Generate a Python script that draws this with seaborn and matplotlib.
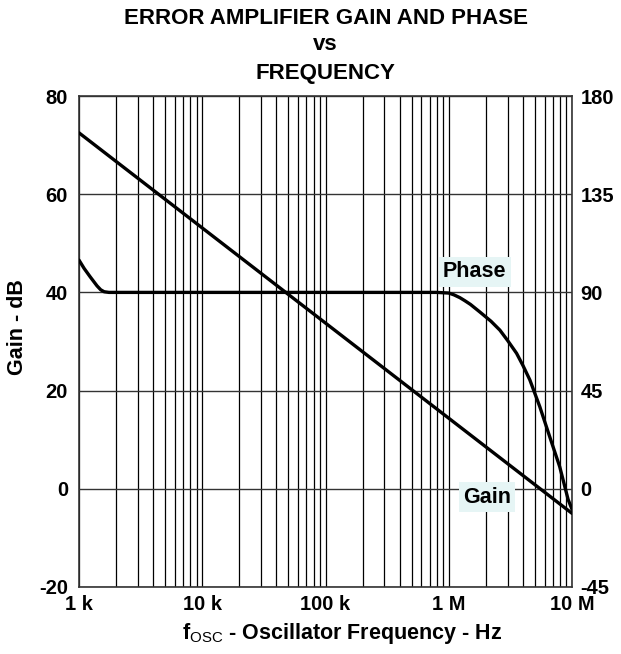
import numpy as np
import matplotlib
matplotlib.use("Agg")
import matplotlib.pyplot as plt
import matplotlib.ticker as mticker
import seaborn as sns

# ---- data ----
gain_freq = [1.0e3, 1.0e7]
gain_db = [72.5, -5.0]

phase_freq = [1.0e3, 1.1e3, 1.23e3, 1.4e3, 1.5e3, 1.6e3, 1.75e3, 1.0e4, 1.0e5,
              8.0e5, 1.0e6, 1.1e6, 1.23e6, 1.35e6, 1.5e6, 1.79e6, 2.2e6, 2.6e6,
              3.0e6, 3.55e6, 4.0e6, 4.55e6, 5.48e6, 6.6e6, 7.95e6, 9.3e6, 1.0e7]
phase_deg = [104.8, 101.0, 97.2, 93.0, 91.2, 90.3, 90.0, 90.0, 90.0,
             90.0, 89.7, 88.9, 87.6, 86.2, 84.5, 81.0, 76.8, 72.7,
             68.0, 62.1, 56.5, 49.9, 37.6, 23.8, 10.1, -4.9, -9.4]

x_ticks = [1e3, 1e4, 1e5, 1e6, 1e7]
x_ticklabels = ["1 k", "10 k", "100 k", "1 M", "10 M"]
gain_ticks = [-20, 0, 20, 40, 60, 80]
phase_ticks = [-45, 0, 45, 90, 135, 180]

sns.set_style("white")
plt.rcParams["font.family"] = ["Liberation Sans", "DejaVu Sans"]
plt.rcParams["text.color"] = "black"
plt.rcParams["xtick.color"] = "black"
plt.rcParams["ytick.color"] = "black"
plt.rcParams["axes.labelcolor"] = "black"
plt.rcParams["mathtext.fontset"] = "custom"
plt.rcParams["mathtext.rm"] = "Liberation Sans"

FS_TICK = 14.5
FS_TEXT = 15.5

W, H = 621, 654
fig = plt.figure(figsize=(W / 100, H / 100), dpi=100)
ax = fig.add_axes([79 / W, 1 - 587 / H, (572 - 79) / W, (587 - 96) / H])

sns.lineplot(x=gain_freq, y=gain_db, ax=ax, color="black", lw=2.4, zorder=5)
ax.set_xscale("log")
ax.set_xlim(1e3, 1e7)
ax.set_ylim(-20, 80)

ax.xaxis.set_minor_locator(mticker.LogLocator(base=10, subs=np.arange(2, 10)))
ax.xaxis.set_minor_formatter(mticker.NullFormatter())
ax.set_xticks(x_ticks)
ax.set_xticklabels(x_ticklabels)
ax.set_yticks(gain_ticks)
ax.set_yticklabels([str(v) for v in gain_ticks])

ax.grid(which="both", axis="x", color="black", lw=0.9)
ax.grid(which="major", axis="y", color="#333333", lw=1.0)
ax.tick_params(which="both", length=0)
ax.tick_params(axis="x", pad=6, labelsize=FS_TICK)
ax.tick_params(axis="y", pad=8, labelsize=FS_TICK)
for lab in ax.get_xticklabels() + ax.get_yticklabels():
    lab.set_fontweight("bold")
for s in ax.spines.values():
    s.set_color("#333333")
    s.set_linewidth(1.2)

ax2 = ax.twinx()
sns.lineplot(x=phase_freq, y=phase_deg, ax=ax2, color="black", lw=2.4, zorder=5)
ax2.set_ylim(-45, 180)
ax2.set_yticks(phase_ticks)
ax2.set_yticklabels([str(v) for v in phase_ticks])
ax2.tick_params(which="both", length=0)
ax2.tick_params(axis="y", pad=6, labelsize=FS_TICK)
for lab in ax2.get_yticklabels():
    lab.set_fontweight("bold")
ax2.set_ylabel("")
for s in ax2.spines.values():
    s.set_visible(False)

box = dict(boxstyle="square,pad=0.2", facecolor="#e6f5f5", edgecolor="none")
ax2.text(1.62e6, (44.2 + 20) * 2.25 - 45, "Phase", ha="center", va="center",
         fontsize=FS_TEXT, fontweight="bold", bbox=box, zorder=6)
ax2.text(2.05e6, (-1.7 + 20) * 2.25 - 45, "Gain", ha="center", va="center",
         fontsize=FS_TEXT, fontweight="bold", bbox=box, zorder=6)

cx = (79 + 572) / 2 / W
fig.text(cx, 1 - 18 / H, "ERROR AMPLIFIER GAIN AND PHASE", ha="center", va="center",
         fontsize=16, fontweight="bold")
fig.text(cx, 1 - 45 / H, "vs", ha="center", va="center", fontsize=16, fontweight="bold")
fig.text(cx, 1 - 73 / H, "FREQUENCY", ha="center", va="center", fontsize=16, fontweight="bold")

fig.text(342 / W, 1 - 633 / H, r"f$_{\mathrm{OSC}}$ - Oscillator Frequency - Hz",
         ha="center", va="center", fontsize=FS_TEXT, fontweight="bold")
fig.text(18 / W, 1 - 327 / H, "Gain - dB", rotation=90, ha="center", va="center",
         fontsize=FS_TEXT, fontweight="bold")

fig.savefig("out.png", dpi=100)
